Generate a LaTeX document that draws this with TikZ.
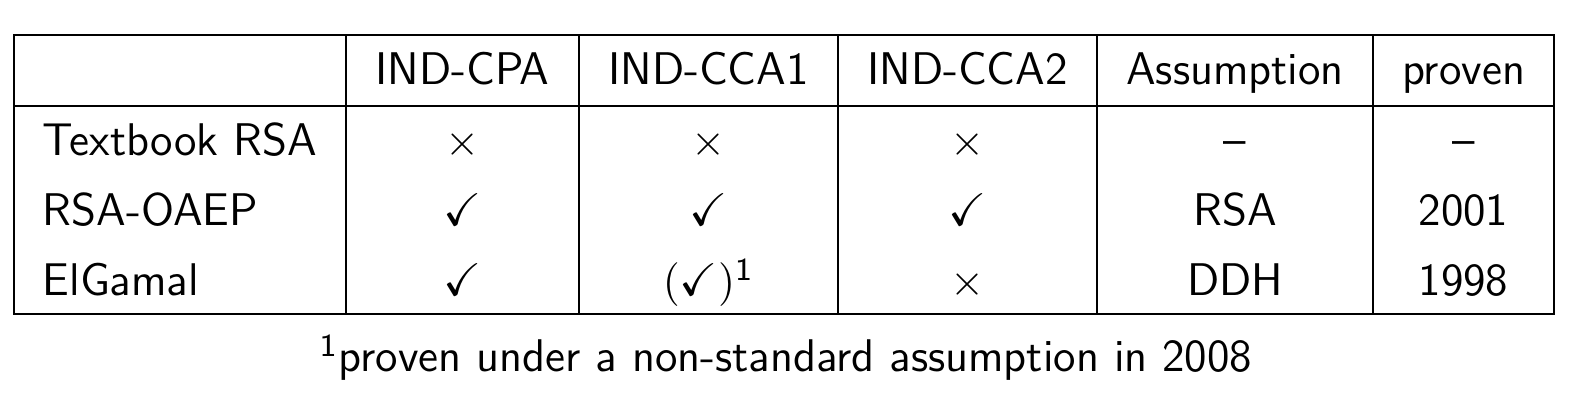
\documentclass[tikz,border=0pt]{standalone}
\usepackage{amssymb}
\usepackage{tikz}
\tikzset{
  cell/.style={anchor=base, inner sep=0pt, font=\fontsize{11.45}{14}\selectfont\sffamily},
  rowhead/.style={cell, anchor=base west},
  rule/.style={line width=0.55pt, black}
}
\begin{document}
\begin{tikzpicture}[x=0.25pt, y=-0.25pt]
\useasboundingbox (0,0) rectangle (1586,404);
% grid
\draw[rule] (14,35) rectangle (1554,314);
\draw[rule] (14,106) -- (1554,106);
\foreach \xx in {346,579,838,1097,1373} \draw[rule] (\xx,35) -- (\xx,314);
% header
\node[cell] (h2) at (462.5,84.5) {IND-CPA};
\node[cell] (h3) at (708.5,84.5) {IND-CCA1};
\node[cell] (h4) at (967.5,84.5) {IND-CCA2};
\node[cell] (h5) at (1235,84.5) {Assumption};
\node[cell] (h6) at (1463.5,84.5) {proven};
% row 1
\node[rowhead] (r1) at (42,156) {Textbook RSA};
\node[cell] (r1c2) at (462.5,156) {$\times$};
\node[cell] (r1c3) at (708.5,156) {$\times$};
\node[cell] (r1c4) at (967.5,156) {$\times$};
\node[cell] (r1c5) at (1235,156) {--};
\node[cell] (r1c6) at (1463.5,156) {--};
% row 2
\node[rowhead] (r2) at (42,226) {RSA-OAEP};
\node[cell] (r2c2) at (462.5,226) {$\checkmark$};
\node[cell] (r2c3) at (708.5,226) {$\checkmark$};
\node[cell] (r2c4) at (967.5,226) {$\checkmark$};
\node[cell] (r2c5) at (1235,226) {RSA};
\node[cell] (r2c6) at (1463.5,226) {2001};
% row 3
\node[rowhead] (r3) at (42,296) {ElGamal};
\node[cell] (r3c2) at (462.5,296) {$\checkmark$};
\node[cell] (r3c3) at (708.5,296) {$(\checkmark)^{\mathsf{1}}$};
\node[cell] (r3c4) at (967.5,296) {$\times$};
\node[cell] (r3c5) at (1235,296) {DDH};
\node[cell] (r3c6) at (1463.5,296) {1998};
% footnote
\node[cell] (fn) at (786,372) {$^{\mathsf{1}}$proven under a non-standard assumption in 2008};
\end{tikzpicture}
\end{document}
